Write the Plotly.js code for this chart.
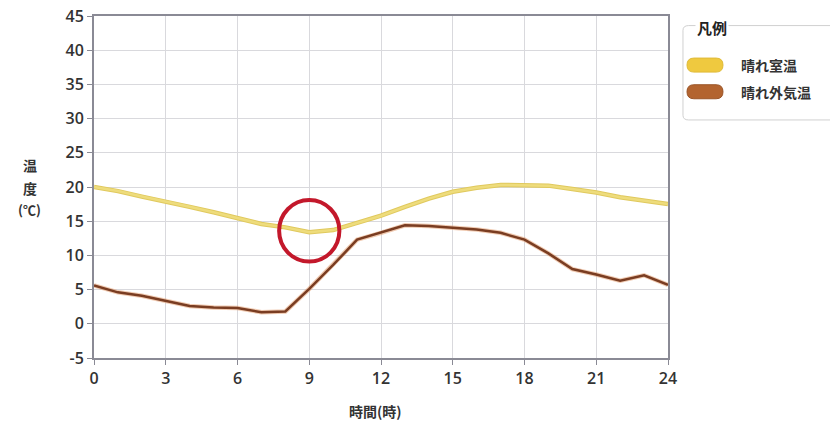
<!DOCTYPE html>
<html><head><meta charset="utf-8">
<script src="https://cdn.plot.ly/plotly-3.0.1.min.js"></script>
<style>html,body{margin:0;padding:0;background:#fff;}#chart{width:830px;height:426px;}</style>
</head><body><div id="chart"></div>
<script>
var hours = [0,1,2,3,4,5,6,7,8,9,10,11,12,13,14,15,16,17,18,19,20,21,22,23,24];
var roomTemp = [20.0,19.4,18.6,17.9,17.1,16.3,15.5,14.6,14.1,13.4,13.7,14.7,15.8,17.1,18.3,19.3,19.9,20.3,20.3,20.2,19.7,19.2,18.5,18.0,17.5];
var outdoorTemp = [5.6,4.6,4.1,3.3,2.6,2.4,2.3,1.7,1.8,5.1,8.6,12.3,13.3,14.4,14.3,14.0,13.8,13.3,12.3,10.3,8.0,7.2,6.3,7.1,5.7];
var seriesNames = ['晴れ室温','晴れ外気温'];
var legendTitle = '凡例';
var yTitleLines = ['温','度','(℃)'];
var xTitle = '時間(時)';
var xTicks = [0,3,6,9,12,15,18,21,24];
var yTicks = [-5,0,5,10,15,20,25,30,35,40,45];
var highlightHour = 9, highlightTemp = 13.6;

var cjk = '"Noto Sans CJK JP", "Noto Sans", sans-serif';
var numFont = '"Open Sans", "Noto Sans", sans-serif';

var traces = [
  {x: hours, y: roomTemp, mode: 'lines', name: seriesNames[0], line: {color: '#e0c95e', width: 4.5}, showlegend: false, hoverinfo: 'skip'},
  {x: hours, y: roomTemp, mode: 'lines', name: seriesNames[0], line: {color: '#eedc7c', width: 2.5}, showlegend: false, hoverinfo: 'skip'},
  {x: hours, y: outdoorTemp, mode: 'lines', name: seriesNames[1], line: {color: 'rgba(226,150,100,0.5)', width: 4.5}, showlegend: false, hoverinfo: 'skip'},
  {x: hours, y: outdoorTemp, mode: 'lines', name: seriesNames[1], line: {color: '#7a3d22', width: 2.5}, showlegend: false, hoverinfo: 'skip'}
];

function pill(x0, x1, y0, y1) {
  var r = 0.012, ym = (y0 + y1) / 2;
  return 'M ' + (x0 + r) + ',' + y1 + ' L ' + (x1 - r) + ',' + y1 +
         ' Q ' + x1 + ',' + y1 + ' ' + x1 + ',' + ym + ' Q ' + x1 + ',' + y0 + ' ' + (x1 - r) + ',' + y0 +
         ' L ' + (x0 + r) + ',' + y0 + ' Q ' + x0 + ',' + y0 + ' ' + x0 + ',' + ym +
         ' Q ' + x0 + ',' + y1 + ' ' + (x0 + r) + ',' + y1 + ' Z';
}

var shapes = [
  {type: 'circle', xref: 'x', yref: 'y', x0: highlightHour - 1.26, x1: highlightHour + 1.26, y0: highlightTemp - 4.5, y1: highlightTemp + 4.5, line: {color: '#c3182b', width: 4}},
  {type: 'path', xref: 'paper', yref: 'paper',
   path: 'M 1.0261,0.95 L 1.0261,0.71 Q 1.0261,0.696 1.036,0.696 L 1.30,0.696 L 1.30,0.972 L 1.036,0.972 Q 1.0261,0.972 1.0261,0.958 Z',
   line: {color: '#d0d0d0', width: 1}, fillcolor: 'rgba(0,0,0,0)'},
  {type: 'path', xref: 'paper', yref: 'paper', path: pill(1.0331, 1.0958, 0.836, 0.877), fillcolor: '#efc93f', line: {color: '#e0bb38', width: 1}},
  {type: 'path', xref: 'paper', yref: 'paper', path: pill(1.0331, 1.0958, 0.758, 0.799), fillcolor: '#b3642f', line: {color: '#9a5427', width: 1}}
];

var annotations = [
  {xref: 'paper', yref: 'paper', x: 1.047, y: 0.966, xanchor: 'left', yanchor: 'middle', text: legendTitle, showarrow: false, bgcolor: '#fff', borderpad: 1, font: {family: cjk, size: 15, color: '#222', weight: 600}},
  {xref: 'paper', yref: 'paper', x: 1.123, y: 0.857, xanchor: 'left', yanchor: 'middle', text: seriesNames[0], showarrow: false, font: {family: cjk, size: 14, color: '#333', weight: 600}},
  {xref: 'paper', yref: 'paper', x: 1.123, y: 0.778, xanchor: 'left', yanchor: 'middle', text: seriesNames[1], showarrow: false, font: {family: cjk, size: 14, color: '#333', weight: 600}},
  {xref: 'paper', yref: 'paper', x: -0.1115, y: 0.564, xanchor: 'center', yanchor: 'middle', text: yTitleLines[0], showarrow: false, font: {family: cjk, size: 14, color: '#333', weight: 600}},
  {xref: 'paper', yref: 'paper', x: -0.1115, y: 0.497, xanchor: 'center', yanchor: 'middle', text: yTitleLines[1], showarrow: false, font: {family: cjk, size: 14, color: '#333', weight: 600}},
  {xref: 'paper', yref: 'paper', x: -0.1115, y: 0.433, xanchor: 'center', yanchor: 'middle', text: yTitleLines[2], showarrow: false, font: {family: cjk, size: 13, color: '#333', weight: 600}},
  {xref: 'paper', yref: 'paper', x: 0.491, y: -0.155, xanchor: 'center', yanchor: 'middle', text: xTitle, showarrow: false, font: {family: cjk, size: 14, color: '#333', weight: 600}}
];

var axisCommon = {showgrid: true, gridcolor: '#d9d9dd', gridwidth: 1,
  showline: true, linecolor: '#8a8a95', linewidth: 2, mirror: true, ticks: 'outside', ticklen: 5, tickcolor: '#8a8a95',
  zeroline: false, tickfont: {family: numFont, size: 16, color: '#333', weight: 600}};

var layout = {
  width: 830, height: 426,
  margin: {l: 94, r: 162, t: 16, b: 68},
  paper_bgcolor: '#fff', plot_bgcolor: '#fff',
  showlegend: false,
  xaxis: Object.assign({range: [0, 24], tickvals: xTicks, ticktext: xTicks.map(String)}, axisCommon),
  yaxis: Object.assign({range: [-5, 45], tickvals: yTicks, ticktext: yTicks.map(String)}, axisCommon),
  shapes: shapes,
  annotations: annotations
};

Plotly.newPlot('chart', traces, layout, {displayModeBar: false, staticPlot: true});
</script>
</body></html>
